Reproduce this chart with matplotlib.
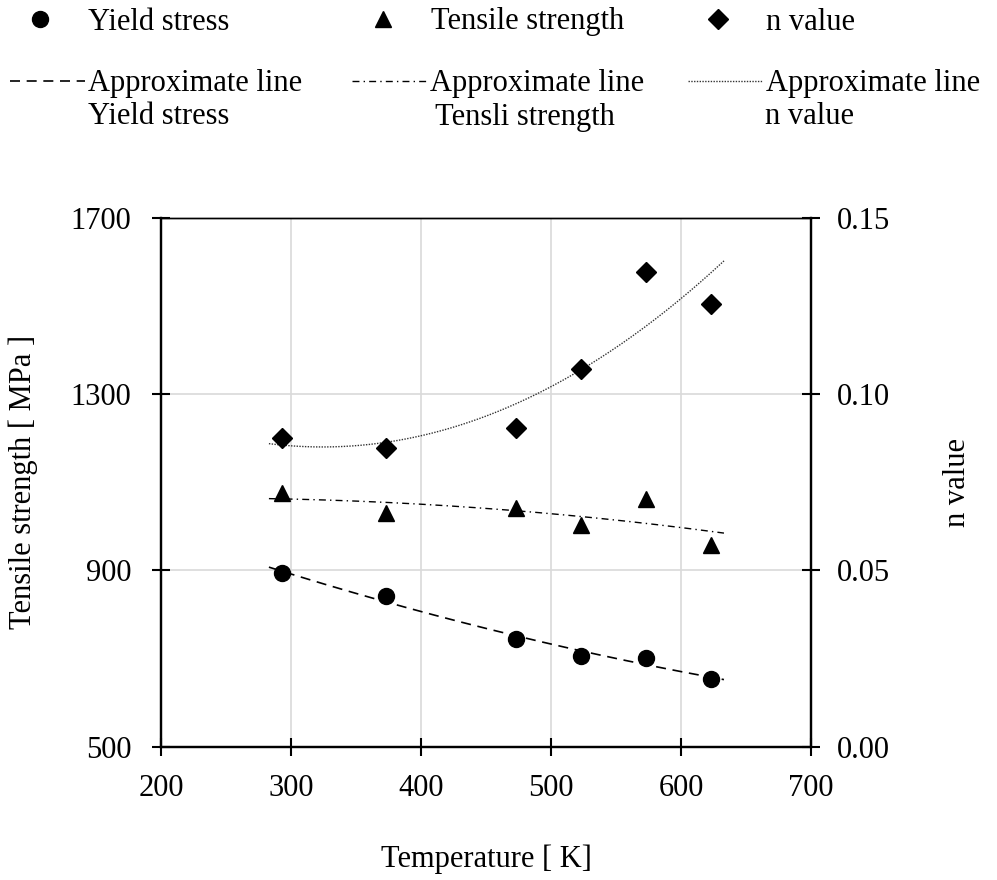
import numpy as np
import matplotlib
matplotlib.use("Agg")
import matplotlib.pyplot as plt

plt.rcParams['font.family'] = ['Liberation Serif', 'DejaVu Serif']
plt.rcParams['font.size'] = 22

# measured data
temps = [293, 373, 473, 523, 573, 623]
yield_stress = [893, 841, 744, 705, 702, 653]
tensile_strength = [1075, 1031, 1041, 1002, 1062, 958]
n_value = [0.0875, 0.0848, 0.0903, 0.1071, 0.1346, 0.1255]

x_ticks = [200, 300, 400, 500, 600, 700]
y_ticks = [500, 900, 1300, 1700]
n_ticks = [0.00, 0.05, 0.10, 0.15]

# 2nd order approximate lines, extended 10 K on both ends
t_fit = np.linspace(temps[0] - 10, temps[-1] + 10, 200)
ys_fit = np.polyval(np.polyfit(temps, yield_stress, 2), t_fit)
ts_fit = np.polyval(np.polyfit(temps, tensile_strength, 2), t_fit)
n_fit = np.polyval(np.polyfit(temps, n_value, 2), t_fit)

fig = plt.figure(figsize=(9.97, 8.8), dpi=100)
ax = fig.add_axes([0.1615, 0.1517, 0.652, 0.6006])
ax2 = ax.twinx()

p1, = ax.plot(temps, yield_stress, 'o', color='black', markersize=11.5, zorder=3)
p2, = ax.plot(temps, tensile_strength, '^', color='black', markersize=11, zorder=3)
l1, = ax.plot(t_fit, ys_fit, color='black', lw=1.2, linestyle=(0, (6, 4)))
l2, = ax.plot(t_fit, ts_fit, color='black', lw=1.0, linestyle=(0, (5, 3, 1, 3)))
p3, = ax2.plot(temps, n_value, 'D', color='black', markersize=10, zorder=3)
l3, = ax2.plot(t_fit, n_fit, color='#333333', lw=1.0, linestyle=(0, (1, 1)))

ax.set_xlim(200, 700)
ax.set_ylim(500, 1700)
ax2.set_ylim(0, 0.15)
ax.set_xticks(x_ticks)
ax.set_yticks(y_ticks)
ax2.set_yticks(n_ticks)
ax2.set_yticklabels(['%.2f' % v for v in n_ticks])

ax.set_axisbelow(True)
ax.grid(color='#d9d9d9', lw=1.2)

ax.tick_params(direction='inout', length=13, width=1.5, pad=13)
ax.tick_params(axis='y', pad=15)
ax2.tick_params(direction='inout', length=13, width=1.5, pad=12)
for a in (ax, ax2):
    for s in ('left', 'right', 'bottom'):
        a.spines[s].set_linewidth(1.6)
    a.spines['top'].set_linewidth(1.0)

ax.set_xlabel('Temperature [ K]', va='center')
ax.xaxis.set_label_coords(0.5, -0.213)
ax.set_ylabel('Tensile strength [ MPa ]', va='center')
ax.yaxis.set_label_coords(-0.212, 0.5)
ax2.set_ylabel('n value', va='center')
ax2.yaxis.set_label_coords(1.2246, 0.5)

# legend, placed entry by entry
W, H = 997.0, 880.0
marker_rows = [(p1, 'Yield stress', 16), (p2, 'Tensile strength', 359), (p3, 'n value', 694)]
for h, lab, x0 in marker_rows:
    fig.legend([h], [lab], loc='center left', bbox_to_anchor=(x0 / W, 1 - 22 / H),
               frameon=False, handlelength=1.6, handletextpad=0.77,
               borderpad=0, borderaxespad=0)

line_rows = [(l1, 'Yield stress', 10, 88),
             (l2, ' Tensli strength', 352, 428),
             (l3, 'n value', 688, 765)]
for h, lab, x0, xt in line_rows:
    fig.legend([h], ['Approximate line'], loc='center left',
               bbox_to_anchor=(x0 / W, 1 - 84 / H),
               frameon=False, handlelength=2.45, handletextpad=0.1,
               borderpad=0, borderaxespad=0)
    fig.text(xt / W, 1 - 117 / H, lab, ha='left', va='center')

fig.savefig('out.png', dpi=100)
